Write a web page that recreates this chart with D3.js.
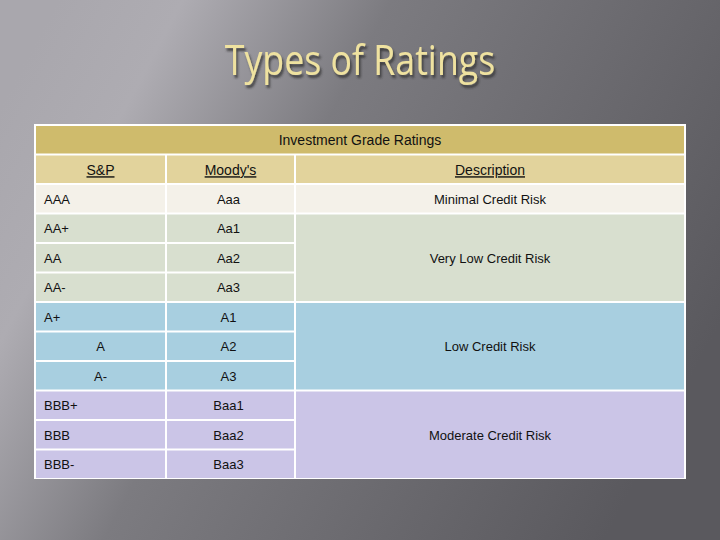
<!DOCTYPE html>
<html><head><meta charset="utf-8">
<script src="https://cdn.jsdelivr.net/npm/d3@7"></script>
<style>body{margin:0;}svg{display:block;}</style>
</head><body><svg id="c" width="720" height="540"></svg>
<script>
const title = "Types of Ratings";
const tableTitle = "Investment Grade Ratings";
const columns = ["S&P", "Moody's", "Description"];
const sp = ["AAA","AA+","AA","AA-","A+","A","A-","BBB+","BBB","BBB-"];
const moodys = ["Aaa","Aa1","Aa2","Aa3","A1","A2","A3","Baa1","Baa2","Baa3"];
const spCentered = [false,false,false,false,false,true,true,false,false,false];
const groups = [
  {label:"Minimal Credit Risk", from:0, to:0},
  {label:"Very Low Credit Risk", from:1, to:3},
  {label:"Low Credit Risk", from:4, to:6},
  {label:"Moderate Credit Risk", from:7, to:9}
];
const groupColors = ["#f4f1e9","#d8dfcf","#a8cfe0","#cbc5e7"];

const svg = d3.select("#c");
const defs = svg.append("defs");
const g = defs.append("linearGradient").attr("id","bg").attr("x1","0").attr("y1","0.2").attr("x2","1").attr("y2","0.6");
g.append("stop").attr("offset","0").attr("stop-color","#a9a7ad");
g.append("stop").attr("offset","0.15").attr("stop-color","#aeacb2");
g.append("stop").attr("offset","0.4").attr("stop-color","#7c7b80");
g.append("stop").attr("offset","1").attr("stop-color","#5a595e");
svg.append("rect").attr("width",720).attr("height",540).attr("fill","url(#bg)");
const f = defs.append("filter").attr("id","sh");
f.append("feDropShadow").attr("dx",2).attr("dy",3).attr("stdDeviation",1).attr("flood-color","#333").attr("flood-opacity",0.8);

svg.append("text").attr("x",360).attr("y",75).attr("text-anchor","middle")
  .attr("font-family","Open Sans, sans-serif").attr("font-size",42).attr("fill","#efe2a0")
  .attr("filter","url(#sh)").attr("transform","translate(360,75) scale(0.85,1) translate(-360,-75)").text(title);

const left=36, right=684;
svg.append("rect").attr("x",left-2).attr("y",124).attr("width",right-left+4).attr("height",355).attr("fill","#fff");
const colX = d3.scaleOrdinal().domain(columns).range([36,167,296]);
const colW = {"S&P":129,"Moody's":127,"Description":388};
const y = d3.scaleBand().domain(d3.range(-2,10)).range([126,478]).paddingInner(0.068);
const font = "Liberation Sans, sans-serif";

// title row
svg.append("rect").attr("x",left).attr("y",y(-2)).attr("width",right-left).attr("height",y.bandwidth()).attr("fill","#cfbb6c");
svg.append("text").attr("x",360).attr("y",y(-2)+y.bandwidth()/2+5).attr("text-anchor","middle")
  .attr("font-family",font).attr("font-size",14).attr("fill","#111").text(tableTitle);
// column headers
columns.forEach(c=>{
  svg.append("rect").attr("x",colX(c)).attr("y",y(-1)).attr("width",colW[c]).attr("height",y.bandwidth()).attr("fill","#e2d39c");
  svg.append("text").attr("x",colX(c)+colW[c]/2).attr("y",y(-1)+y.bandwidth()/2+6).attr("text-anchor","middle")
   .attr("font-family",font).attr("font-size",14).attr("text-decoration","underline").attr("fill","#111").text(c);
});
const gi = i => groups.findIndex(gr=>i>=gr.from&&i<=gr.to);
sp.forEach((s,i)=>{
  const col = groupColors[gi(i)];
  ["S&P","Moody's"].forEach(c=>{
    svg.append("rect").attr("x",colX(c)).attr("y",y(i)).attr("width",colW[c]).attr("height",y.bandwidth()).attr("fill",col);
  });
  svg.append("text").attr("x",spCentered[i]?colX("S&P")+colW["S&P"]/2:44).attr("y",y(i)+y.bandwidth()/2+5)
    .attr("text-anchor",spCentered[i]?"middle":"start").attr("font-family",font).attr("font-size",13).attr("fill","#111").text(s);
  svg.append("text").attr("x",colX("Moody's")+colW["Moody's"]/2-2).attr("y",y(i)+y.bandwidth()/2+5)
    .attr("text-anchor","middle").attr("font-family",font).attr("font-size",13).attr("fill","#111").text(moodys[i]);
});
groups.forEach((gr,k)=>{
  const y0=y(gr.from), y1=y(gr.to)+y.bandwidth();
  svg.append("rect").attr("x",colX("Description")).attr("y",y0).attr("width",colW["Description"]).attr("height",y1-y0).attr("fill",groupColors[k]);
  svg.append("text").attr("x",490).attr("y",(y0+y1)/2+5).attr("text-anchor","middle")
    .attr("font-family",font).attr("font-size",13).attr("fill","#111").text(gr.label);
});
</script></body></html>
